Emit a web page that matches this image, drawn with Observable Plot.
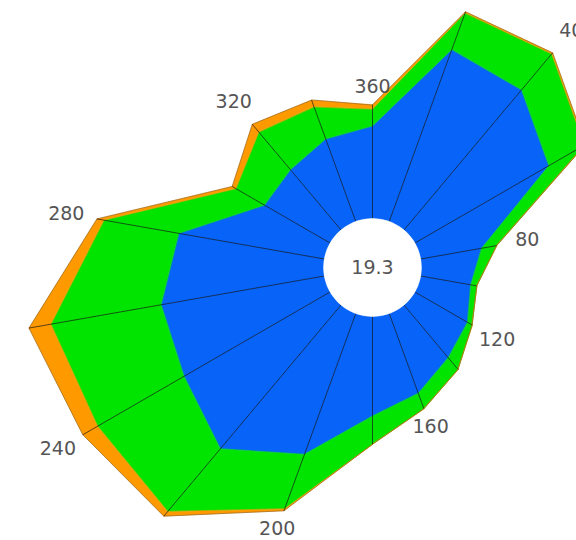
<!DOCTYPE html>
<html><head><meta charset="utf-8">
<script src="https://cdn.jsdelivr.net/npm/d3@7"></script>
<script src="https://cdn.jsdelivr.net/npm/@observablehq/plot@0.6"></script>
<style>html,body{margin:0;padding:0;background:#fff;overflow:hidden}</style>
</head><body><div id="chart"></div>
<script>
// Wind directions (degrees) and stacked frequency bands (%)
const directions = [0,20,40,60,80,100,120,140,160,180,200,220,240,260,280,300,320,340];
const bandNames = ["band1","band2","band3"];
const band1 = [2.53,4.99,4.99,4.22,1.69,1.39,1.66,1.88,2.32,2.72,4.09,5.12,4.60,4.52,4.03,2.07,2.15,2.40];
const band2 = [0.46,1.06,1.28,1.12,0.41,0.16,0.14,0.41,0.44,0.76,1.58,2.23,2.72,3.05,2.07,0.90,1.34,0.93];
const band3 = [0.11,0.03,0.03,0.03,0.00,0.00,0.00,0.00,0.00,0.00,0.05,0.16,0.46,0.60,0.19,0.11,0.27,0.19];
const angleTicks = [360,40,80,120,160,200,240,280,320];
const calm = 19.3;
const bandColors = ["#0864f8","#00e400","#ff9900"];

const W = 576, H = 540, cx = 372, cy = 267, k = 36.7;
const hole = 1.335; // calm circle radius in data units

const bands = [band1, band2, band3];
const rad = d => d * Math.PI / 180;
const px = (r, a) => r * Math.sin(rad(a));
const py = (r, a) => r * Math.cos(rad(a));

// cumulative radii
const cum = bands.map((_, L) => directions.map((_, i) => hole + d3.sum(bands.slice(0, L + 1), b => b[i])));
const base = directions.map(() => hole);

const wedgePts = [];
bands.forEach((b, L) => {
  const inner = L === 0 ? base : cum[L - 1];
  const outer = cum[L];
  directions.forEach((a, i) => {
    const j = (i + 1) % directions.length;
    const a2 = directions[j];
    const id = `${L}-${i}`;
    const pts = [[inner[i], a], [outer[i], a], [outer[j], a2], [inner[j], a2]];
    pts.forEach(([r, ang]) => wedgePts.push({id, band: bandNames[L], x: px(r, ang), y: py(r, ang)}));
  });
});

const outerR = cum[cum.length - 1];
const outline = directions.map((a, i) => ({x: px(outerR[i], a), y: py(outerR[i], a)}));

const labels = angleTicks.map(t => {
  const a = t % 360;
  const i = directions.indexOf(a);
  const c = Math.cos(rad(a));
  const off = (10 + Math.abs(Math.sin(rad(a))) * 20 + (c > 0 ? c * 8 : -c * 3)) / k;
  const r = outerR[i] + off;
  return {text: String(t), x: px(r, a), y: py(r, a)};
});

const chart = Plot.plot({
  width: W, height: H, margin: 0,
  style: {fontFamily: "DejaVu Sans, sans-serif", background: "#fff"},
  x: {domain: [-cx / k, (W - cx) / k], range: [0, W], axis: null},
  y: {domain: [-(H - cy) / k, cy / k], range: [H, 0], axis: null},
  color: {domain: bandNames, range: bandColors},
  marks: [
    Plot.line(wedgePts, {x: "x", y: "y", z: "id", fill: "band", stroke: "band", strokeWidth: 0.6, curve: "linear-closed"}),
    Plot.line(outline, {x: "x", y: "y", curve: "linear-closed", stroke: "#333", strokeWidth: 0.8, strokeOpacity: 0.45}),
    Plot.link(directions, {
      x1: a => px(hole, a), y1: a => py(hole, a),
      x2: (a, i) => px(outerR[i], a), y2: (a, i) => py(outerR[i], a),
      stroke: "#111", strokeWidth: 0.9, strokeOpacity: 0.75
    }),
    Plot.dot([calm], {x: () => 0, y: () => 0, r: hole * k, fill: "white", stroke: "white", strokeWidth: 0.5}),
    Plot.text([calm], {x: () => 0, y: () => 0, text: d => d.toFixed(1), fontSize: 19, fill: "#555"}),
    Plot.text(labels, {x: "x", y: "y", text: "text", fontSize: 19, fill: "#555"})
  ]
});
document.getElementById("chart").appendChild(chart);
</script>
</body></html>
